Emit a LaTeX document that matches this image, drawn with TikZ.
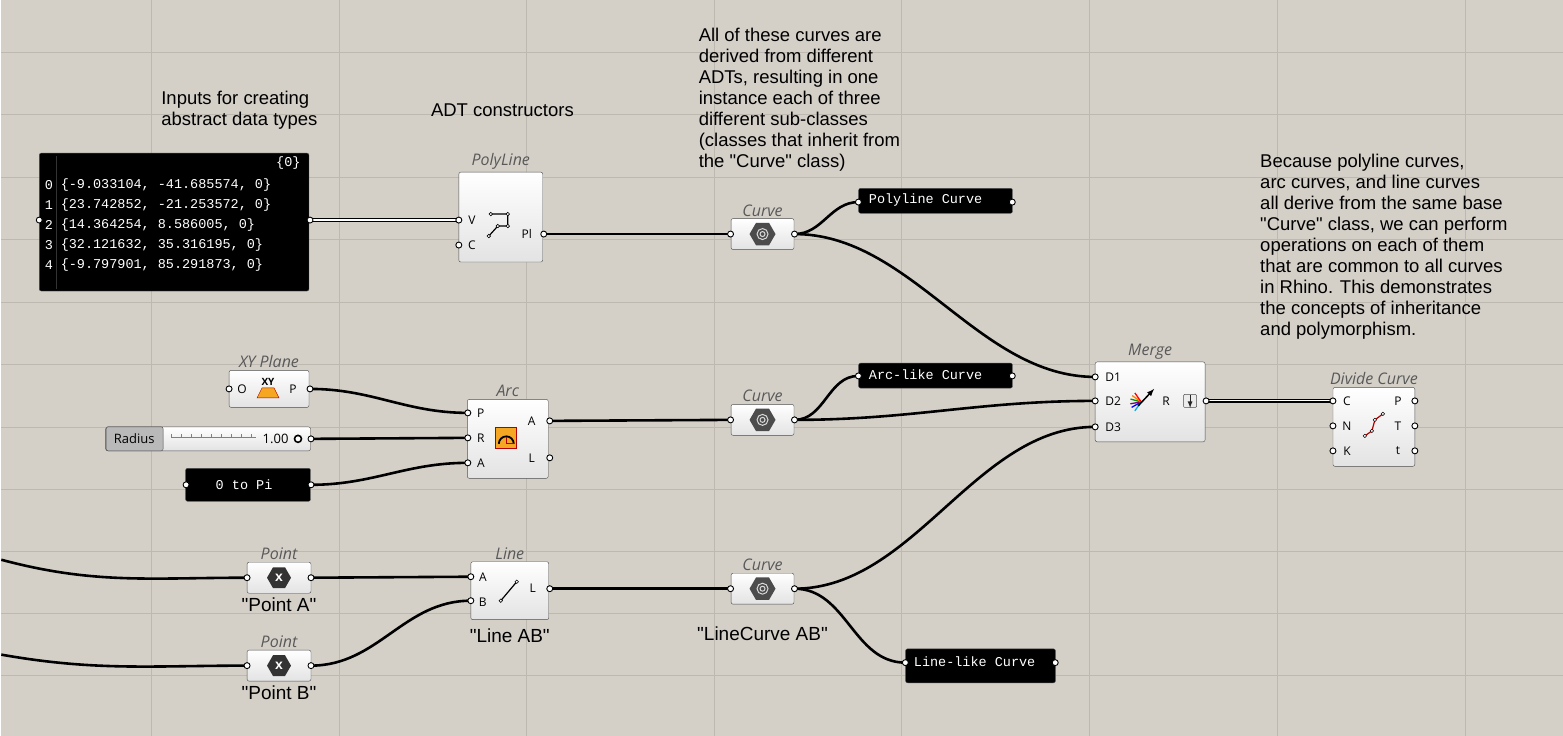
\documentclass[tikz,border=0pt]{standalone}
\usepackage{fontspec}
\setmainfont{Liberation Sans}[Ligatures=TeXOff]
\newfontfamily\titlefont{Open Sans}
\newfontfamily\panelfont{Liberation Mono}
\usetikzlibrary{shapes.geometric,positioning}
\definecolor{canvas}{HTML}{D4D0C8}
\definecolor{gridc}{HTML}{BDB9B1}
\definecolor{iconorange}{HTML}{F5A623}
\begin{document}
\begin{tikzpicture}[x=1pt,y=-1pt,
	comp/.style={draw=gray!60!black, rounded corners=2pt, top color=white, bottom color=gray!22, inner sep=0pt},
	panel/.style={draw=gray!60!black, fill=black, rounded corners=2pt, inner sep=0pt},
	ttl/.style={font=\titlefont\itshape\fontsize{16}{18}\selectfont, text=black!65, inner sep=1pt},
	port/.style={font=\titlefont\fontsize{12}{14}\selectfont},
	note/.style={font=\fontsize{18.5}{21}\selectfont, align=left, anchor=north west, inner sep=0pt},
	lbl/.style={font=\fontsize{19}{21}\selectfont},
	ptxt/.style={font=\panelfont\fontsize{13.5}{15}\selectfont, text=white},
	grip/.style={circle, draw=black, fill=white, line width=0.9pt, minimum size=6pt, inner sep=0pt},
	wire/.style={line width=2.6pt, black},
	dwire/.style={double=white, double distance=1.2pt, line width=1.3pt, black},
	hexa/.style={regular polygon, regular polygon sides=6, minimum size=19pt, inner sep=0pt}]
	% canvas and grid
	\fill[canvas] (0,0) rectangle (1563,736);
	\foreach \gx in {150,338,526,714,901,1089,1277,1465}
		\draw[gridc, line width=0.6pt] (\gx,0) -- (\gx,736);
	\foreach \gy in {52,114,177,239,302,364,427,489,552,614,676}
		\draw[gridc, line width=0.6pt] (0,\gy) -- (1563,\gy);

	% notes
	\node[note] (n1) at (160,91) {Inputs for creating\\abstract data types};
	\node[note] (n2) at (430,103) {ADT constructors};
	\node[note] (n3) at (698,28) {All of these curves are\\derived from different\\ADTs, resulting in one\\instance each of three\\different sub-classes\\(classes that inherit from\\the "Curve" class)};
	\node[note] (n4) at (1260,154) {Because polyline curves,\\arc curves, and line curves\\all derive from the same base\\"Curve" class, we can perform\\operations on each of them\\that are common to all curves\\in Rhino. This demonstrates\\the concepts of inheritance\\and polymorphism.};

	% point list panel
	\node[panel, minimum width=270, minimum height=138] (pts) at (173,222) {};
	\draw[gray!40!black] (55,156) -- (55,289);
	\node[ptxt, anchor=east] at (303,163) {\{0\}};
	\foreach \i/\v in {0/{\{-9.033104, -41.685574, 0\}},1/{\{23.742852, -21.253572, 0\}},2/{\{14.364254, 8.586005, 0\}},3/{\{32.121632, 35.316195, 0\}},4/{\{-9.797901, 85.291873, 0\}}}{
		\node[ptxt, anchor=west] at (40,185+20*\i) {\i};
		\node[ptxt, anchor=west] at (56,185+20*\i) {\v};
	}
	\coordinate (ptsIn) at (38,220);
	\coordinate (ptsOut) at (309,220);

	% PolyLine
	\node[comp, minimum width=84, minimum height=90] (poly) at (500,217) {};
	\node[ttl, above=1pt of poly] {PolyLine};
	\node[port] at (471,220) {V};
	\node[port] at (471,245) {C};
	\node[port] at (526,234) {Pl};
	\draw[line width=1.2pt] (488,236) -- (497,226) -- (507,226) -- (507,214) -- (490,214);
	\foreach \dx/\dy in {488/236, 497/226, 507/226, 507/214, 490/214}
		\node[grip, minimum size=3.5pt, line width=0.6pt] at (\dx,\dy) {};
	\coordinate (polyV) at (458,220);
	\coordinate (polyC) at (458,245);
	\coordinate (polyOut) at (543,234);

	% XY Plane
	\node[comp, minimum width=80, minimum height=37] (xy) at (268,389) {};
	\node[ttl, above=1pt of xy] {XY Plane};
	\node[port] at (241,389) {O};
	\node[port] at (292,389) {P};
	\fill[iconorange, draw=red!70!black] (256,398) -- (278,398) -- (273,388) -- (261,388) -- cycle;
	\node[port, font=\titlefont\bfseries\fontsize{10}{10}\selectfont] at (267,382) {XY};
	\coordinate (xyIn) at (228,389);
	\coordinate (xyOut) at (309,389);

	% Radius slider
	\node[comp, minimum width=205, minimum height=24] (rad) at (207,439) {};
	\fill[gray!55, rounded corners=2pt, draw=gray!60!black] (105,427) rectangle (162,451);
	\node[port, font=\titlefont\fontsize{13}{14}\selectfont] at (133,439) {Radius};
	\foreach \tx in {170,180,...,250} \draw[gray] (\tx,434) -- (\tx,437);
	\draw[gray] (170,437) -- (255,437);
	\node[port, font=\titlefont\fontsize{13}{14}\selectfont, anchor=east] at (291,439) {1.00};
	\node[grip, minimum size=7pt, line width=1.6pt] at (297,439) {};
	\coordinate (radOut) at (310,439);

	% 0 to Pi panel
	\node[panel, minimum width=125, minimum height=33] (pi) at (247,485) {};
	\node[ptxt] at (243,485) {0 to Pi};
	\coordinate (piIn) at (185,485);
	\coordinate (piOut) at (310,485);

	% Arc
	\node[comp, minimum width=81, minimum height=79] (arc) at (507,439) {};
	\node[ttl, above=1pt of arc] {Arc};
	\node[port] at (480,413) {P};
	\node[port] at (480,438) {R};
	\node[port] at (480,463) {A};
	\node[port] at (531,421) {A};
	\node[port] at (531,458) {L};
	\fill[iconorange, draw=red!70!black, line width=0.8pt] (495,428) rectangle (516,449);
	\draw[line width=1.8pt] (498,444) arc (180:360:7.5);
	\draw[red!70!black, line width=1.2pt] (505.5,444) -- (505.5,437) (505.5,444) -- (513,444);
	\coordinate (arcP) at (467,413);
	\coordinate (arcR) at (467,438);
	\coordinate (arcA) at (467,463);
	\coordinate (arcOut) at (549,421);
	\coordinate (arcL) at (549,458);

	% Points
	\foreach \nm/\lt/\py in {ptA/A/578, ptB/B/666}{
		\node[comp, minimum width=64, minimum height=31] (\nm) at (278,\py) {};
		\node[ttl, above=1pt of \nm] {Point};
		\node[hexa, fill=black!80, minimum size=24pt] at (278,\py) {};
		\node[text=white, font=\bfseries\fontsize{14}{14}\selectfont] at (278,\py) {x};
		\node[lbl, below=1pt of \nm] {"Point \lt"};
		\coordinate (\nm In) at (246,\py);
		\coordinate (\nm Out) at (310,\py);
	}

	% Line
	\node[comp, minimum width=78, minimum height=58] (ln) at (509,591) {};
	\node[ttl, above=1pt of ln] {Line};
	\node[lbl, below=5pt of ln] {"Line AB"};
	\node[port] at (482,577) {A};
	\node[port] at (482,603) {B};
	\node[port] at (532,589) {L};
	\draw[line width=1.2pt] (500,601) -- (516,582);
	\node[grip, minimum size=3.5pt, line width=0.6pt] at (500,601) {};
	\node[grip, minimum size=3.5pt, line width=0.6pt] at (516,582) {};
	\coordinate (lnA) at (470,577);
	\coordinate (lnB) at (470,601);
	\coordinate (lnOut) at (549,589);

	% Curve params
	\foreach \nm/\cy in {crvA/234, crvB/420, crvC/589}{
		\node[comp, minimum width=63, minimum height=31] (\nm) at (762,\cy) {};
		\node[ttl, above=1pt of \nm] {Curve};
		\node[hexa, fill=black!70, minimum size=26pt] at (762,\cy) {};
		\draw[white!85!black, line width=1pt] (762,\cy) circle (5.5pt) (762,\cy) circle (2.5pt);
		\coordinate (\nm In) at (730,\cy);
		\coordinate (\nm Out) at (794,\cy);
	}
	\node[lbl, below=19pt of crvC] {"LineCurve AB"};

	% text panels
	\node[panel, minimum width=154, minimum height=25, anchor=north west] (pnlPoly) at (858,188) {};
	\node[ptxt, anchor=west] at (865,200) {Polyline Curve};
	\node[panel, minimum width=154, minimum height=25, anchor=north west] (pnlArc) at (858,363) {};
	\node[ptxt, anchor=west] at (865,375) {Arc-like Curve};
	\node[panel, minimum width=150, minimum height=34, anchor=north west] (pnlLine) at (905,649) {};
	\node[ptxt, anchor=west] at (910,662) {Line-like Curve};
	\coordinate (pnlPolyIn) at (858,202);
	\coordinate (pnlPolyOut) at (1012,202);
	\coordinate (pnlArcIn) at (858,376);
	\coordinate (pnlArcOut) at (1012,376);
	\coordinate (pnlLineIn) at (905,663);
	\coordinate (pnlLineOut) at (1055,663);

	% Merge
	\node[comp, minimum width=110, minimum height=80] (mrg) at (1150,402) {};
	\node[ttl, above=1pt of mrg] {Merge};
	\node[port] at (1113,377) {D1};
	\node[port] at (1113,401) {D2};
	\node[port] at (1113,427) {D3};
	\node[port] at (1166,401) {R};
	\foreach \cc/\ang in {blue/150, violet/170, green!60!black/195, orange/215, red/235, cyan/125}
		\draw[\cc, line width=1.3pt] (1141,402) -- ++(\ang:11);
	\draw[-latex, line width=1.5pt] (1138,406) -- (1154,389);
	\node[draw=gray!60!black, fill=gray!15, rounded corners=1pt, minimum size=13pt, inner sep=0pt] at (1190,401) {};
	\draw[-latex, gray!30!black, line width=1.2pt] (1190,395) -- (1190,408);
	\coordinate (mrgD1) at (1095,377);
	\coordinate (mrgD2) at (1095,401);
	\coordinate (mrgD3) at (1095,427);
	\coordinate (mrgOut) at (1206,401);

	% Divide Curve
	\node[comp, minimum width=82, minimum height=79] (div) at (1374,427) {};
	\node[ttl, above=1pt of div] {Divide Curve};
	\node[port] at (1347,401) {C};
	\node[port] at (1347,426) {N};
	\node[port] at (1347,451) {K};
	\node[port] at (1398,401) {P};
	\node[port] at (1398,426) {T};
	\node[port] at (1398,451) {t};
	\draw[red!70!black, line width=1.2pt] (1365,436) -- (1372,431) -- (1375,420) -- (1383,414);
	\foreach \dx/\dy in {1365/436, 1372/431, 1375/420, 1383/414}
		\node[grip, minimum size=3.5pt, line width=0.5pt] at (\dx,\dy) {};
	\coordinate (divC) at (1333,401);
	\coordinate (divN) at (1333,426);
	\coordinate (divK) at (1333,451);
	\coordinate (divP) at (1415,401);
	\coordinate (divT) at (1415,426);
	\coordinate (divt) at (1415,451);

	% free wire ends
	\coordinate (srcA) at (0,560);
	\coordinate (srcB) at (0,655);

	% wires
	\draw[dwire] (ptsOut) -- (polyV);
	\draw[wire] (polyOut) -- (crvAIn);
	\draw[wire] (crvAOut) to[out=0, in=180] (pnlPolyIn);
	\draw[wire] (crvAOut) to[out=0, in=180, looseness=0.9] (mrgD1);
	\draw[wire] (xyOut) to[out=0, in=180] (arcP);
	\draw[wire] (radOut) -- (arcR);
	\draw[wire] (piOut) to[out=0, in=180] (arcA);
	\draw[wire] (arcOut) -- (crvBIn);
	\draw[wire] (crvBOut) to[out=0, in=180] (pnlArcIn);
	\draw[wire] (crvBOut) to[out=0, in=180] (mrgD2);
	\draw[wire] (srcA) to[out=-15, in=180] (ptAIn);
	\draw[wire] (srcB) to[out=-10, in=180] (ptBIn);
	\draw[wire] (ptAOut) -- (lnA);
	\draw[wire] (ptBOut) to[out=0, in=180] (lnB);
	\draw[wire] (lnOut) -- (crvCIn);
	\draw[wire] (crvCOut) to[out=0, in=180, looseness=0.9] (mrgD3);
	\draw[wire] (crvCOut) to[out=0, in=180] (pnlLineIn);
	\draw[dwire] (mrgOut) -- (divC);

	% grips
	\foreach \g in {ptsIn, ptsOut, polyV, polyC, polyOut, xyIn, xyOut, radOut, piIn, piOut,
		arcP, arcR, arcA, arcOut, arcL, ptAIn, ptAOut, ptBIn, ptBOut, lnA, lnB, lnOut,
		crvAIn, crvAOut, crvBIn, crvBOut, crvCIn, crvCOut, pnlPolyIn, pnlPolyOut, pnlArcIn,
		pnlArcOut, pnlLineIn, pnlLineOut, mrgD1, mrgD2, mrgD3, mrgOut, divC, divN, divK, divP, divT, divt}
		\node[grip] at (\g) {};
\end{tikzpicture}
\end{document}
